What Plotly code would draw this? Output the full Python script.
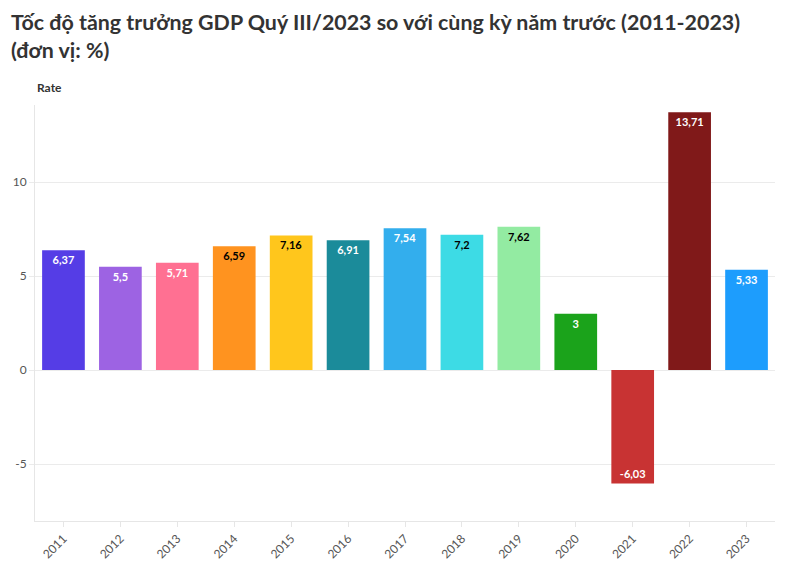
import plotly.graph_objects as go

years = ["2011", "2012", "2013", "2014", "2015", "2016", "2017", "2018", "2019", "2020", "2021", "2022", "2023"]
rates = [6.37, 5.5, 5.71, 6.59, 7.16, 6.91, 7.54, 7.2, 7.62, 3.0, -6.03, 13.71, 5.33]
labels = ["6,37", "5,5", "5,71", "6,59", "7,16", "6,91", "7,54", "7,2", "7,62", "3", "-6,03", "13,71", "5,33"]
colors = ["#553de6", "#9d63e3", "#ff7092", "#ff931f", "#ffc61c", "#1b8b9a", "#33aeed", "#3ddbe5", "#93eba2",
          "#1ba31b", "#c83333", "#801919", "#1d9dfd"]
text_colors = ["white", "white", "white", "black", "black", "white", "white", "black", "black",
               "white", "white", "white", "white"]

FONT = "Lato, 'Open Sans', sans-serif"

fig = go.Figure(go.Bar(
    x=years, y=rates, marker=dict(color=colors, line=dict(width=0)),
    text=labels, textposition="inside", insidetextanchor="end",
    textfont=dict(color=text_colors, size=11, family=FONT, weight="bold"),
    textangle=0, cliponaxis=False, hoverinfo="x+y",
))

fig.update_layout(
    width=796, height=575,
    margin=dict(l=35, r=21, t=105, b=54),
    paper_bgcolor="white", plot_bgcolor="white",
    bargap=0.25,
    showlegend=False,
    annotations=[
        dict(
            text="Tốc độ tăng trưởng GDP Quý III/2023 so với cùng kỳ năm trước (2011-2023)<br>(đơn vị: %)",
            xref="paper", yref="paper", x=0, y=1, xanchor="left", yanchor="bottom", align="left",
            xshift=-26, yshift=40, showarrow=False,
            font=dict(family=FONT, size=21.4, color="#333333", weight="bold"),
        ),
        dict(
            text="Rate", xref="paper", yref="paper", x=0.0, y=1.0, xanchor="left", yanchor="bottom",
            yshift=8, showarrow=False, font=dict(family=FONT, size=12, color="#333333", weight="bold"),
        ),
    ],
    xaxis=dict(
        type="category", tickangle=-45, showline=True, linecolor="#e6e6e6", linewidth=1,
        ticks="outside", ticklen=5, tickcolor="#e6e6e6",
        tickfont=dict(family=FONT, size=12, color="#555555"), showgrid=False,
    ),
    yaxis=dict(
        range=[-8.03, 14.1], tickvals=[-5, 0, 5, 10], ticktext=["-5", "0", "5", "10"],
        showgrid=True, gridcolor="#ebebeb", zeroline=False,
        showline=True, linecolor="#e6e6e6", linewidth=1,
        ticks="outside", ticklen=5, tickcolor="#ebebeb",
        tickfont=dict(family=FONT, size=12, color="#555555"),
    ),
)

fig.write_html("out.html", config={"displayModeBar": False},
               post_script="document.body.style.margin='0';")
